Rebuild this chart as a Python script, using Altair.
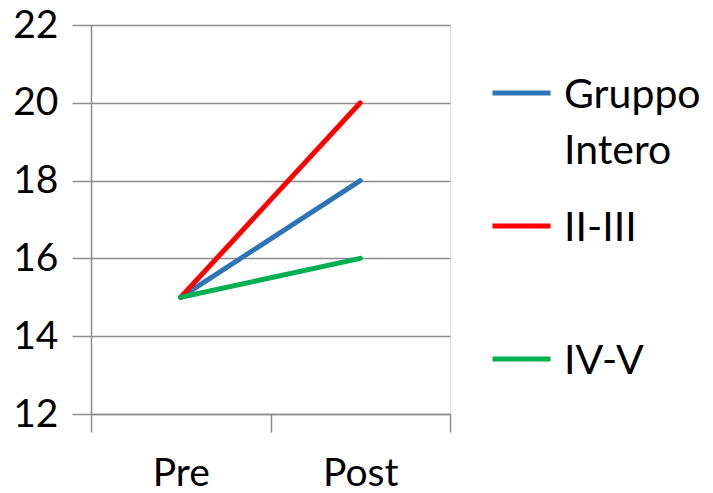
import altair as alt
import pandas as pd

phases = ["Pre", "Post"]
series = ["Gruppo Intero", "II-III", "IV-V"]
gruppo_intero = [15, 18]
ii_iii = [15, 20]
iv_v = [15, 16]
colors = ["#2e75b6", "#ff0000", "#00b050"]
y_ticks = [12, 14, 16, 18, 20, 22]

rows = []
for name, vals in zip(series, [gruppo_intero, ii_iii, iv_v]):
    for p, v in zip(phases, vals):
        rows.append({"fase": p, "valore": v, "serie": name})
df = pd.DataFrame(rows)

FONT = "Lato"
GRID = "#8c8c8c"

chart = alt.Chart(df).mark_line(strokeWidth=5, strokeCap="round").encode(
    x=alt.X(
        "fase:N",
        sort=phases,
        scale=alt.Scale(paddingInner=0, paddingOuter=0),
        axis=alt.Axis(
            title=None, labelAngle=0, tickBand="extent", tickSize=18, grid=False,
            domainColor=GRID, domainWidth=1.5, tickColor=GRID, tickWidth=1.5,
            labelFont=FONT, labelFontSize=39, labelColor="#000000", labelPadding=22,
        ),
    ),
    y=alt.Y(
        "valore:Q",
        scale=alt.Scale(domain=[12, 22], nice=False, zero=False),
        axis=alt.Axis(
            title=None, values=y_ticks, tickSize=19, grid=True,
            gridColor=GRID, gridWidth=1.5, domainColor=GRID, domainWidth=1.5,
            tickColor=GRID, tickWidth=1.5,
            labelFont=FONT, labelFontSize=39, labelColor="#000000", labelPadding=14,
        ),
    ),
    color=alt.Color(
        "serie:N",
        scale=alt.Scale(domain=series, range=colors),
        legend=alt.Legend(
            title=None, orient="none", legendX=399, legendY=19, padding=0,
            symbolType="M-1,0.6H1", symbolSize=3364, symbolStrokeWidth=5,
            labelFont=FONT, labelFontSize=41, labelColor="#000000", labelOffset=11,
            labelLimit=400, rowPadding=5, gridAlign="all", labelBaseline="top",
            labelExpr="datum.label == 'Gruppo Intero' ? ['Gruppo', 'Intero'] : datum.label",
        ),
    ),
).properties(
    width=359,
    height=389,
    autosize=alt.AutoSizeParams(type="none"),
    padding={"left": 83, "top": 17, "right": 255, "bottom": 79},
).configure_view(stroke=None).configure(
    style={"guide-label": {"lineHeight": 56}}
)

chart.save("out.html", embed_options={"renderer": "svg", "actions": False})
